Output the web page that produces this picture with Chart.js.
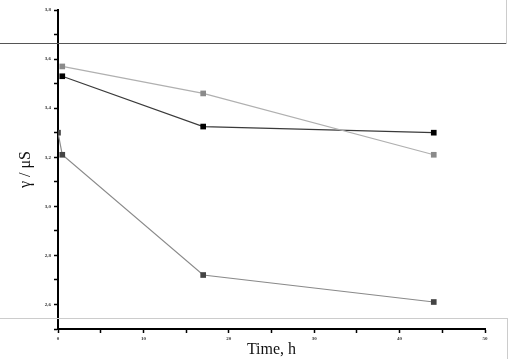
<!DOCTYPE html>
<html>
<head>
<meta charset="utf-8">
<script src="https://cdn.jsdelivr.net/npm/chart.js@4"></script>
<style>
  body { margin: 0; background: #fff; }
  .wrap { position: relative; width: 512px; height: 359px; }
  .line-top { position: absolute; left: 0; top: 43px; width: 507px; height: 0; border-top: 1px solid #555; }
  .edge-top { position: absolute; left: 506px; top: 0; width: 0; height: 44px; border-left: 1px solid #ccc; }
  .box-bottom { position: absolute; left: -1px; top: 318px; width: 507px; height: 45px; border: 1px solid #ccc; }
</style>
</head>
<body>
<div class="wrap">
  <canvas id="chart" width="512" height="359"></canvas>
  <div class="line-top"></div>
  <div class="edge-top"></div>
  <div class="box-bottom"></div>
</div>
<script>
const timeA = [0.5, 17, 44];
const seriesBlack = [3.53, 3.325, 3.30];
const seriesLight = [3.57, 3.46, 3.21];

const timeB = [0, 0.5, 17, 44];
const seriesDark = [3.30, 3.21, 2.72, 2.61];

const toPoints = (xs, ys) => xs.map((x, i) => ({ x, y: ys[i] }));

const tickFont = { family: 'Liberation Serif', size: 5, weight: 'bold' };

new Chart(document.getElementById('chart'), {
    type: 'line',
    data: {
        datasets: [
            {
                label: 'light',
                data: toPoints(timeA, seriesLight),
                borderColor: '#b0b0b0',
                backgroundColor: '#8a8a8a',
                borderWidth: 1.2,
                pointStyle: 'rect',
                pointRadius: 4,
                pointBorderWidth: 0
            },
            {
                label: 'black',
                data: toPoints(timeA, seriesBlack),
                borderColor: '#3a3a3a',
                backgroundColor: '#000',
                borderWidth: 1.2,
                pointStyle: 'rect',
                pointRadius: 4,
                pointBorderWidth: 0
            },
            {
                label: 'dark',
                data: toPoints(timeB, seriesDark),
                borderColor: '#8a8a8a',
                backgroundColor: '#444',
                borderWidth: 1.2,
                pointStyle: 'rect',
                pointRadius: 4,
                pointBorderWidth: 0
            }
        ]
    },
    options: {
        responsive: false,
        animation: false,
        layout: { padding: { top: 10, right: 27, left: 0, bottom: 0 } },
        plugins: {
            legend: { display: false },
            tooltip: { enabled: false }
        },
        scales: {
            x: {
                type: 'linear',
                min: 0,
                max: 50,
                afterFit: (s) => { s.height = 30; },
                border: { color: '#000', width: 2 },
                grid: { drawOnChartArea: false, tickLength: 4, tickWidth: 1.5, tickColor: '#000' },
                ticks: {
                    stepSize: 5,
                    padding: 3,
                    maxRotation: 0,
                    autoSkip: false,
                    color: '#333',
                    font: tickFont,
                    callback: (v) => (v % 10 === 0 ? String(v) : '')
                },
                title: {
                    display: true,
                    text: 'Time, h',
                    color: '#111',
                    font: { family: 'Liberation Serif', size: 16 },
                    padding: { top: 0, bottom: 0 }
                }
            },
            y: {
                min: 2.5,
                max: 3.8,
                afterFit: (s) => { s.width = 58; },
                border: { color: '#000', width: 2 },
                grid: { drawOnChartArea: false, tickLength: 4, tickWidth: 1.5, tickColor: '#000' },
                ticks: {
                    stepSize: 0.1,
                    padding: 3,
                    autoSkip: false,
                    color: '#333',
                    font: tickFont,
                    callback: (v) => (Math.round(v * 10) % 2 === 0 ? v.toFixed(1).replace('.', ',') : '')
                },
                title: {
                    display: true,
                    text: 'γ / μS',
                    color: '#111',
                    font: { family: 'Liberation Serif', size: 16 },
                    padding: { top: 16, bottom: 0 }
                }
            }
        }
    }
});
</script>
</body>
</html>
